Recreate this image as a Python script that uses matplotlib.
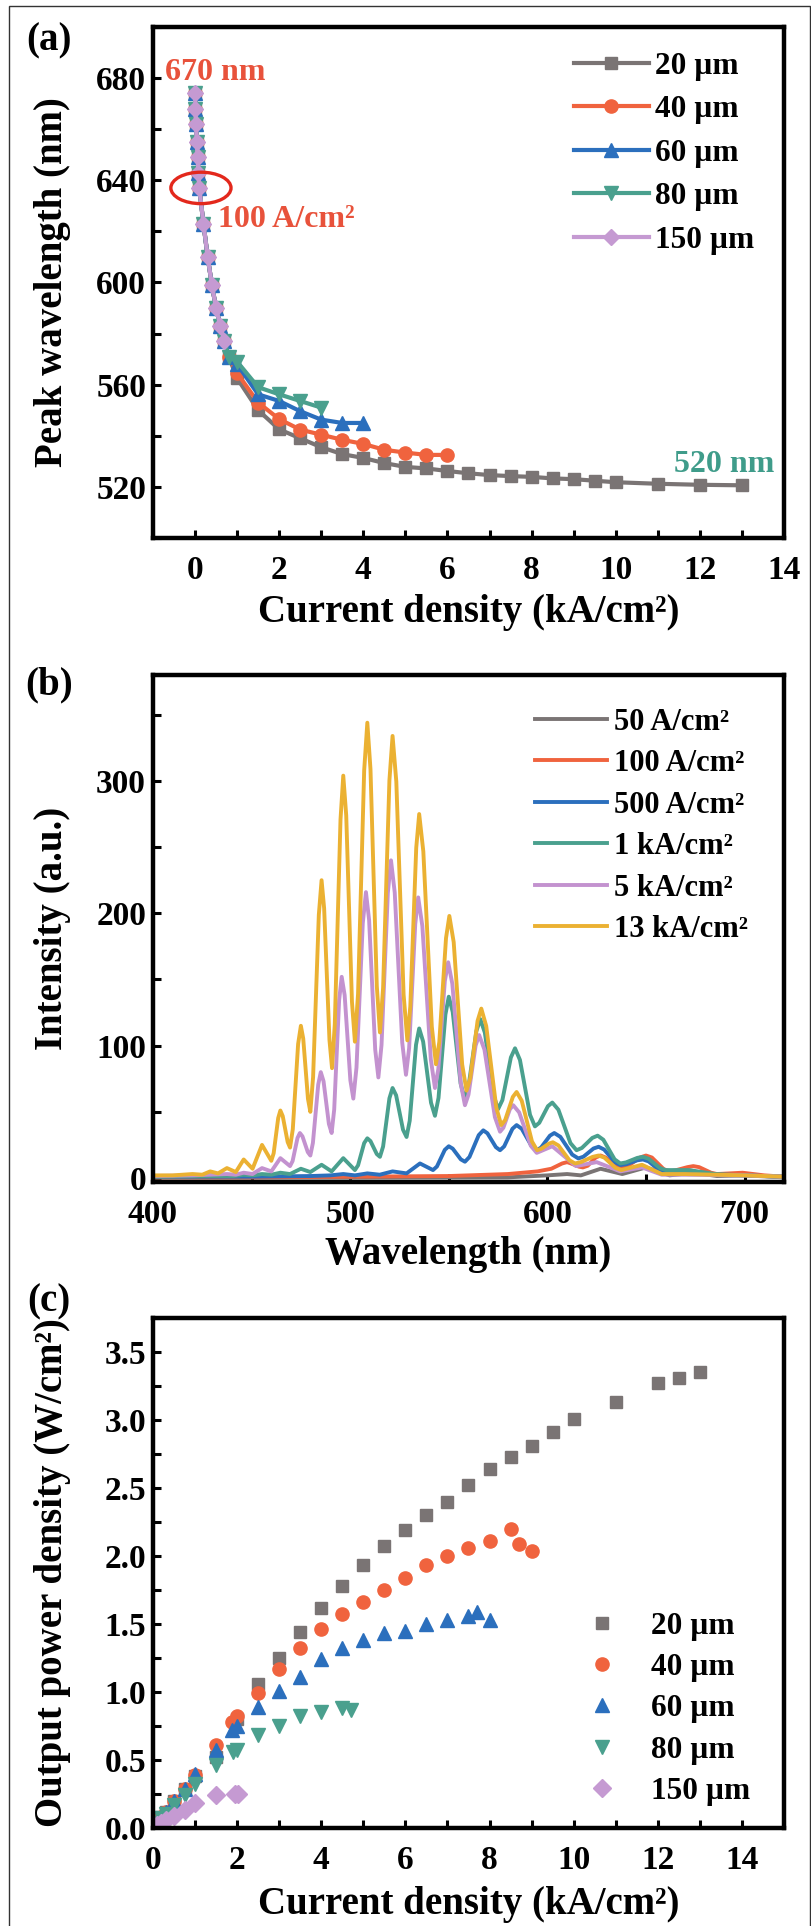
import matplotlib
matplotlib.use('Agg')
import matplotlib.pyplot as plt
from matplotlib.patches import Ellipse, Rectangle
from matplotlib.ticker import MultipleLocator, FormatStrFormatter

plt.rcParams['font.family'] = ['Liberation Serif', 'DejaVu Serif']
plt.rcParams['font.weight'] = 'bold'
plt.rcParams['axes.labelweight'] = 'bold'

# ---- (a) peak wavelength vs current density ----
sizes = ['20 µm', '40 µm', '60 µm', '80 µm', '150 µm']
j_low = [0, 0.01, 0.02, 0.04, 0.06, 0.08, 0.1, 0.2, 0.3, 0.4, 0.5, 0.6, 0.7, 0.8]
wl_low = [674, 668, 662, 655, 649, 643, 637, 623, 610, 599, 590, 583, 577, 571]

j_a20 = [1.0, 1.5, 2.0, 2.5, 3.0, 3.5, 4.0, 4.5, 5.0, 5.5, 6.0, 6.5, 7.0, 7.5, 8.0,
         8.5, 9.0, 9.5, 10, 11, 12, 13]
wl_a20 = [562.5, 550, 542.5, 539, 535.5, 532.8, 531.3, 529.3, 527.8, 527.2, 526.2,
          525.3, 524.6, 524.2, 523.9, 523.3, 523.0, 522.4, 521.8, 521.2, 520.8, 520.6]
j_a40 = [1.0, 1.5, 2.0, 2.5, 3.0, 3.5, 4.0, 4.5, 5.0, 5.5, 6.0]
wl_a40 = [564.5, 553, 546.5, 542.4, 540.4, 538.4, 536.8, 534.5, 533.4, 532.5, 532.5]
j_a60 = [1.0, 1.5, 2.0, 2.5, 3.0, 3.5, 4.0]
wl_a60 = [568, 556.2, 553.6, 549.6, 546.3, 545, 545]
j_a80 = [1.0, 1.5, 2.0, 2.5, 3.0]
wl_a80 = [569, 559, 556.2, 553.6, 551]

# ---- (b) spectra ----
currents = ['50 A/cm²', '100 A/cm²', '500 A/cm²', '1 kA/cm²', '5 kA/cm²', '13 kA/cm²']
lam50 = [400, 500, 580, 600, 610, 617, 627, 638, 650, 662, 674, 686, 700, 720]
I50 = [0.3, 0.3, 0.5, 2, 3, 2, 7, 3, 8, 2, 4, 1.5, 2, 0.5]

lam100 = [400, 450, 500, 550, 580, 595, 602, 607.5, 610, 612, 616, 618, 620.5, 624.5, 627,
          629.5, 635, 638, 641, 647, 650, 653, 659, 662, 665, 671, 674, 677, 683, 686, 699,
          710, 720]
I100 = [0.5, 0.5, 1, 1.5, 3, 5, 7, 11, 12, 11, 8.6, 8, 9.3, 15.5, 17, 15.5, 9.2, 8, 9.2, 15.5,
        17, 15.5, 6.7, 5, 5.8, 8.2, 9, 8.2, 4, 3, 4, 2, 1]

lam500 = [400, 450, 480, 490, 496.5, 502.4, 508.7, 515, 521.5, 528.6, 535.4, 542, 544, 548,
          550, 552, 556.1, 558.2, 560.5, 565.2, 567.5, 569.6, 573.9, 576, 578.1, 582.3, 584.4,
          587, 592.1, 594.6, 596.8, 601.3, 603.5, 606.6, 612.6, 615.7, 618.3, 623.4, 626,
          628.8, 634.3, 637, 640, 645.6, 648.5, 651.4, 657.1, 660, 672, 685, 700, 720]
I500 = [1, 1, 1.5, 2, 3, 2, 3.5, 2.5, 5, 3.5, 11, 6, 8.7, 21.3, 24, 22.2, 14.1, 12.3, 15.9,
        32.4, 36, 33.8, 23.3, 21, 23.9, 37.2, 40, 37.2, 23.9, 21, 23, 32, 34, 31.1, 17.7,
        14.8, 16.1, 22.3, 23.6, 21.5, 11.9, 9.8, 10.4, 13.4, 14, 12.5, 5.5, 4, 4, 2.5, 2, 1]

lam1k = [400, 430, 441, 446, 450.5, 455.3, 460, 464.6, 469.5, 475, 479.8, 485.5, 490.6, 496.5,
         502.4, 504.0, 507.1, 508.7, 510.3, 513.5, 515.1, 516.7, 519.9, 521.5, 523.3, 526.8,
         528.6, 530.2, 533.4, 535, 537, 541, 543, 544.8, 548.3, 550, 552, 556, 558, 560, 564,
         566, 568.3, 572.8, 575, 577.2, 581.5, 583.6, 586.1, 591.2, 593.7, 595.9, 600.3, 602.5,
         605.6, 611.7, 614.8, 617.5, 622.8, 625.5, 628.4, 634.1, 637, 639.9, 645.6, 648.5,
         651.4, 657.1, 660, 672, 685, 700, 720]
I1k = [1, 1.5, 1.5, 2.5, 2, 3, 2.5, 4, 3, 7, 4.5, 10, 5, 15, 6, 9.6, 26.4, 30, 27.9, 18.1, 16,
       23.8, 60.2, 68, 62.5, 36.5, 31, 43.3, 100.7, 113, 103.1, 56.9, 47, 60.5, 123.5, 137,
       125.5, 71.5, 60, 69, 111, 120, 109.8, 62.2, 52, 58.9, 91.1, 98, 89.2, 47.8, 39, 41.7,
       54.3, 57, 51.6, 26.4, 21, 22.7, 30.3, 32, 28.9, 14.1, 11, 11.8, 15.2, 16, 14.5, 7.5, 6,
       6, 3, 2, 1]

lam5k = [400, 420, 437.5, 442, 446, 450.5, 455.3, 460, 464.6, 469.5, 470.8, 473.3, 474.5, 475.8,
         478.5, 479.8, 481.1, 483.8, 485.1, 486.5, 489.2, 490.6, 491.9, 494.4, 495.7, 497.2,
         500.1, 501.6, 503.2, 506.4, 508, 509.6, 512.7, 514.3, 515.9, 519.1, 520.7, 522.6,
         526.4, 528.3, 529.9, 533.0, 534.5, 536.6, 540.9, 543, 544.7, 548.0, 549.7, 551.8,
         556.1, 558.2, 560.0, 563.6, 565.4, 568.1, 573.4, 576, 577.7, 581.0, 582.7, 585.7,
         591.6, 594.6, 602.5, 614.5, 625, 637, 648, 658, 670, 700, 720]
I5k = [1.5, 2, 3, 2.5, 4, 3, 7.5, 5, 15, 9, 12.8, 30.3, 34, 31.5, 19.6, 17, 26.5, 70.6, 80,
       73.1, 40.9, 34, 51.7, 134.3, 152, 138.2, 73.8, 60, 83.4, 192.6, 216, 195, 97, 76, 100.6,
       215.4, 240, 215.7, 102.3, 78, 98.1, 191.9, 212, 190.4, 89.6, 68, 82.3, 148.8, 163,
       146.8, 71.2, 55, 63, 100, 108, 97, 46, 35, 38, 52, 55, 49.6, 24.4, 19, 24, 9, 12, 5, 8,
       2.5, 2.5, 2, 1]

lam13k = [400, 410, 420, 425, 429, 433, 437.5, 442, 446, 450.5, 455.3, 460, 461.2, 463.5,
          464.6, 465.8, 468.3, 469.5, 470.9, 473.6, 475, 476.2, 478.6, 479.8, 481.2, 484.1,
          485.5, 486.8, 489.5, 490.8, 492.2, 495.1, 496.5, 498.0, 500.9, 502.4, 504.0, 507.1,
          508.7, 510.3, 513.5, 515.1, 516.7, 519.9, 521.5, 523.4, 527.1, 529, 530.5, 533.5,
          535, 537.1, 541.4, 543.5, 545.2, 548.6, 550.3, 552.5, 556.8, 559, 560.9, 564.6,
          566.5, 569.0, 574.1, 576.6, 578.6, 582.5, 584.4, 587.0, 592.2, 594.8, 596.8, 600.8,
          602.8, 605.6, 611.2, 614, 617, 623, 626, 628.9, 634.6, 637.5, 648, 658, 670, 685,
          700, 720]
I13k = [2, 2, 3, 2.5, 5, 3.5, 7.5, 4.5, 14, 7, 25, 13, 18.7, 45.3, 51, 46.8, 27.2, 23, 36.8,
        101.2, 115, 105.3, 59.8, 50, 76.3, 198.8, 225, 203.7, 104.3, 83, 116.2, 270.9, 304,
        273.9, 133.2, 103, 139.2, 307.9, 344, 308.9, 145.1, 110, 143.6, 300.4, 334, 299.5,
        138.5, 104, 129.7, 249.4, 275, 246.7, 114.4, 86, 102.8, 181.2, 198, 178.2, 85.8, 66,
        75.3, 118.7, 128, 114.8, 53.2, 40, 43.8, 61.3, 65, 58.4, 27.6, 21, 22, 26, 27, 24.6,
        13.4, 11, 12, 16, 17, 15.4, 7.6, 6, 10, 3, 3, 2.5, 2, 1]

# ---- (c) output power density ----
j_c20 = [0, 0.05, 0.1, 0.2, 0.3, 0.5, 0.75, 1.0, 1.5, 2.0, 2.5, 3.0, 3.5, 4.0, 4.5, 5.0, 5.5,
         6.0, 6.5, 7.0, 7.5, 8.0, 8.5, 9.0, 9.5, 10.0, 11, 12, 12.5, 13]
p_c20 = [0, 0.02, 0.04, 0.08, 0.12, 0.2, 0.29, 0.38, 0.52, 0.8, 1.06, 1.25, 1.44, 1.62, 1.78,
         1.93, 2.07, 2.19, 2.30, 2.40, 2.52, 2.64, 2.73, 2.81, 2.91, 3.01, 3.13, 3.27, 3.31, 3.35]
j_c40 = [0, 0.05, 0.1, 0.2, 0.3, 0.5, 0.75, 1.0, 1.5, 1.88, 2.0, 2.5, 3.0, 3.5, 4.0, 4.5, 5.0,
         5.5, 6.0, 6.5, 7.0, 7.5, 8.0, 8.5, 8.7, 9.0]
p_c40 = [0, 0.02, 0.04, 0.08, 0.12, 0.2, 0.29, 0.39, 0.61, 0.78, 0.82, 0.99, 1.17, 1.32, 1.46,
         1.57, 1.66, 1.75, 1.84, 1.93, 2.00, 2.06, 2.11, 2.20, 2.09, 2.04]
j_c60 = [0, 0.05, 0.1, 0.2, 0.3, 0.5, 0.75, 1.0, 1.5, 1.88, 2.0, 2.5, 3.0, 3.5, 4.0, 4.5, 5.0,
         5.5, 6.0, 6.5, 7.0, 7.5, 7.7, 8.0]
p_c60 = [0, 0.02, 0.04, 0.08, 0.12, 0.2, 0.29, 0.40, 0.57, 0.72, 0.75, 0.89, 1.01, 1.11, 1.24,
         1.32, 1.38, 1.43, 1.45, 1.50, 1.53, 1.56, 1.59, 1.53]
j_c80 = [0, 0.05, 0.1, 0.2, 0.3, 0.5, 0.75, 1.0, 1.5, 1.9, 2.0, 2.5, 3.0, 3.5, 4.0, 4.5, 4.7]
p_c80 = [0, 0.02, 0.04, 0.07, 0.1, 0.17, 0.24, 0.32, 0.46, 0.56, 0.57, 0.68, 0.75, 0.82, 0.85,
         0.88, 0.87]
j_c150 = [0, 0.05, 0.1, 0.2, 0.3, 0.5, 0.75, 1.0, 1.5, 1.94, 2.03]
p_c150 = [0, 0.01, 0.02, 0.04, 0.06, 0.09, 0.13, 0.18, 0.24, 0.25, 0.25]

size_colors = ['#7a7474', '#f0633e', '#2b6fbd', '#4aa08e', '#c59ad2']
size_markers = ['s', 'o', '^', 'v', 'D']
cur_colors = ['#7a7474', '#f0633e', '#2b6fbd', '#4aa08e', '#c392cf', '#ebb132']


def style_axes(ax):
    for sp in ax.spines.values():
        sp.set_linewidth(3.2)
    ax.tick_params(which='both', direction='in', length=6, width=2.2,
                   top=False, right=False, labelsize=24)
    ax.tick_params(axis='x', which='both', pad=12)
    ax.tick_params(axis='y', which='both', pad=5)


def place_labels(ax, xl, yl, xy):
    ax.set_xlabel(xl, fontsize=28)
    ax.set_ylabel(yl, fontsize=28)
    ax.xaxis.set_label_coords(0.5, xy)
    ax.yaxis.set_label_coords(-0.16, 0.5)
    ax.xaxis.label.set_va('center')
    ax.yaxis.label.set_va('center')


fig = plt.figure(figsize=(8.12, 19.26), dpi=100)
fig.patches.append(Rectangle((0.011, -0.01), 0.987, 1.007, transform=fig.transFigure,
                             fill=False, ec='#333333', lw=1.0))

# panel (a)
ax1 = fig.add_axes([0.1884, 0.7207, 0.7771, 0.2653])
a_x = [j_low + j_a20, j_low + j_a40, j_low + j_a60, j_low + j_a80, j_low[:-1]]
a_y = [wl_low + wl_a20, wl_low + wl_a40, wl_low + wl_a60, wl_low + wl_a80, wl_low[:-1]]
msz = [8.5, 9.5, 10, 10, 8.5]
for xs, ys, c, m, lab, s in zip(a_x, a_y, size_colors, size_markers, sizes, msz):
    ax1.plot(xs, ys, color=c, marker=m, ms=s, lw=3, mec=c, label=lab)
ax1.set_xlim(-1, 14)
ax1.set_ylim(500, 700)
ax1.xaxis.set_major_locator(MultipleLocator(2))
ax1.xaxis.set_minor_locator(MultipleLocator(1))
ax1.yaxis.set_major_locator(MultipleLocator(40))
ax1.yaxis.set_minor_locator(MultipleLocator(20))
style_axes(ax1)
place_labels(ax1, 'Current density (kA/cm²)', 'Peak wavelength (nm)', -0.145)
ax1.add_patch(Ellipse((0.14, 637), 1.43, 12.3, fill=False, ec='#e3281c', lw=2.4, zorder=5))
ax1.text(-0.71, 682, '670 nm', color='#e8523b', fontsize=23, ha='left', va='center')
ax1.text(0.55, 624.5, '100 A/cm²', color='#e8523b', fontsize=23, ha='left', va='center')
ax1.text(13.76, 528.7, '520 nm', color='#3f9c8a', fontsize=23, ha='right', va='center')
ax1.legend(loc='upper left', bbox_to_anchor=(0.667, 0.951), frameon=False, fontsize=22.5,
           handlelength=2.4, handletextpad=0.2, labelspacing=0.46, borderpad=0,
           borderaxespad=0)

# panel (b)
ax2 = fig.add_axes([0.1884, 0.3863, 0.7771, 0.2632])
b_x = [lam50, lam100, lam500, lam1k, lam5k, lam13k]
b_y = [I50, I100, I500, I1k, I5k, I13k]
for xs, ys, c, lab in zip(b_x, b_y, cur_colors, currents):
    ax2.plot(xs, ys, color=c, lw=2.8, label=lab, solid_joinstyle='round')
ax2.set_xlim(400, 720)
ax2.set_ylim(-3, 380)
ax2.xaxis.set_major_locator(MultipleLocator(100))
ax2.xaxis.set_minor_locator(MultipleLocator(50))
ax2.yaxis.set_major_locator(MultipleLocator(100))
ax2.yaxis.set_minor_locator(MultipleLocator(50))
style_axes(ax2)
place_labels(ax2, 'Wavelength (nm)', 'Intensity (a.u.)', -0.144)
ax2.legend(loc='upper left', bbox_to_anchor=(0.605, 0.936), frameon=False, fontsize=22,
           handlelength=2.35, handletextpad=0.26, labelspacing=0.41, borderpad=0,
           borderaxespad=0)

# panel (c)
ax3 = fig.add_axes([0.1884, 0.0509, 0.7771, 0.2648])
c_x = [j_c20, j_c40, j_c60, j_c80, j_c150]
c_y = [p_c20, p_c40, p_c60, p_c80, p_c150]
cms = [9, 9.5, 10.5, 10.5, 9]
for xs, ys, c, m, lab, s in zip(c_x, c_y, size_colors, size_markers, sizes, cms):
    ax3.plot(xs, ys, ls='none', color=c, marker=m, ms=s, mec=c, label=lab)
ax3.set_xlim(0, 15)
ax3.set_ylim(0, 3.75)
ax3.xaxis.set_major_locator(MultipleLocator(2))
ax3.xaxis.set_minor_locator(MultipleLocator(1))
ax3.yaxis.set_major_locator(MultipleLocator(0.5))
ax3.yaxis.set_minor_locator(MultipleLocator(0.25))
ax3.yaxis.set_major_formatter(FormatStrFormatter('%.1f'))
style_axes(ax3)
place_labels(ax3, 'Current density (kA/cm²)', 'Output power density (W/cm²)', -0.151)
ax3.legend(loc='upper left', bbox_to_anchor=(0.675, 0.4235), frameon=False, fontsize=22.5,
           handlelength=1.5, handletextpad=0.8, labelspacing=0.39, borderpad=0,
           borderaxespad=0)

fig.text(0.060, 0.979, '(a)', fontsize=28, ha='center', va='center')
fig.text(0.060, 0.6443, '(b)', fontsize=28, ha='center', va='center')
fig.text(0.060, 0.324, '(c)', fontsize=28, ha='center', va='center')

fig.savefig('out.png', dpi=100)
